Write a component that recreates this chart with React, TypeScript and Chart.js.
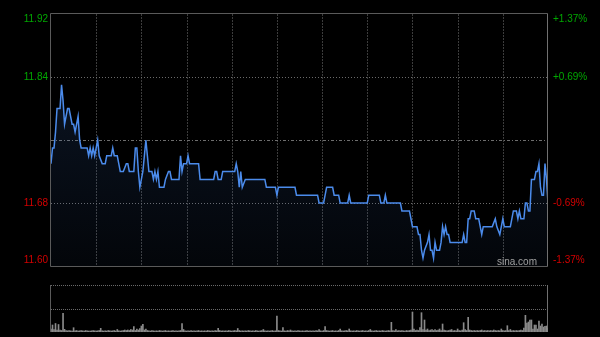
import React, { useEffect, useRef } from "react";
import { Chart, registerables } from "chart.js";
Chart.register(...registerables);

// Trading minutes (0..330, HK session) and last price at those minutes
const minutes = [
  0, 1, 2, 3, 4, 6, 7, 8, 9, 10, 11, 12, 14, 15, 16, 17, 18, 19, 20, 24,
  25, 26, 27, 28, 29, 30, 31, 32, 34, 36, 37, 40, 41, 42, 43, 44, 45, 46, 48, 50,
  51, 52, 55, 56, 57, 58, 59, 60, 61, 62, 63, 64, 65, 67, 68, 69, 70, 71, 72, 75,
  76, 78, 79, 80, 85, 86, 87, 88, 90, 91, 92, 98, 99, 108, 109, 110, 111, 113, 114, 122,
  123, 124, 125, 126, 127, 129, 142, 143, 149, 150, 151, 162, 163, 177, 178, 181, 182, 183, 187, 188,
  191, 192, 197, 198, 199, 210, 211, 218, 219, 221, 222, 223, 232, 233, 238, 239, 240, 243, 244, 245,
  246, 247, 248, 250, 251, 252, 253, 254, 255, 256, 258, 259, 260, 261, 262, 263, 264, 265, 273, 274,
  275, 276, 277, 278, 279, 281, 282, 284, 285, 286, 287, 293, 295, 296, 298, 299, 300, 301, 305, 307,
  309, 310, 311, 312, 314, 315, 316, 317, 318, 319, 321, 322, 323, 324, 325, 326, 327, 328, 329, 330,
];
const prices = [
  11.73, 11.75, 11.75, 11.77, 11.80, 11.80, 11.83, 11.81, 11.78, 11.79, 11.80, 11.80, 11.78, 11.78, 11.77, 11.78, 11.79, 11.76, 11.75, 11.75,
  11.74, 11.75, 11.74, 11.75, 11.74, 11.75, 11.76, 11.74, 11.73, 11.73, 11.74, 11.74, 11.75, 11.74, 11.74, 11.74, 11.73, 11.72, 11.72, 11.73,
  11.73, 11.72, 11.72, 11.75, 11.75, 11.72, 11.70, 11.71, 11.72, 11.74, 11.76, 11.74, 11.72, 11.72, 11.71, 11.72, 11.71, 11.72, 11.70, 11.70,
  11.71, 11.72, 11.72, 11.71, 11.71, 11.74, 11.72, 11.73, 11.73, 11.74, 11.73, 11.73, 11.71, 11.71, 11.72, 11.72, 11.71, 11.71, 11.72, 11.72,
  11.73, 11.72, 11.70, 11.72, 11.70, 11.71, 11.71, 11.70, 11.70, 11.69, 11.70, 11.70, 11.69, 11.69, 11.68, 11.68, 11.69, 11.70, 11.70, 11.69,
  11.69, 11.68, 11.68, 11.69, 11.68, 11.68, 11.69, 11.69, 11.68, 11.68, 11.69, 11.68, 11.68, 11.67, 11.67, 11.66, 11.65, 11.65, 11.64, 11.64,
  11.62, 11.61, 11.62, 11.63, 11.64, 11.62, 11.62, 11.61, 11.63, 11.62, 11.62, 11.63, 11.65, 11.64, 11.65, 11.64, 11.64, 11.63, 11.63, 11.64,
  11.63, 11.63, 11.66, 11.66, 11.67, 11.67, 11.66, 11.66, 11.65, 11.64, 11.65, 11.65, 11.66, 11.65, 11.64, 11.65, 11.66, 11.65, 11.65, 11.67,
  11.67, 11.66, 11.67, 11.66, 11.66, 11.68, 11.68, 11.67, 11.67, 11.71, 11.71, 11.72, 11.72, 11.73, 11.70, 11.69, 11.69, 11.73, 11.71, 11.68,
];

// Volume per minute (one bar per minute)
const volumes = [
  30, 70, 25, 85, 20, 75, 20, 15, 187, 27, 15, 12, 15, 12, 10, 43, 12, 15, 10, 12, 15, 12, 10, 15, 12, 10, 10, 12, 15, 12,
  10, 12, 15, 37, 12, 10, 12, 10, 15, 12, 10, 12, 15, 10, 25, 12, 10, 12, 15, 20, 15, 20, 15, 25, 20, 53, 15, 30, 20, 35,
  60, 77, 20, 30, 15, 12, 10, 15, 12, 10, 12, 10, 15, 12, 10, 12, 15, 10, 12, 10, 12, 15, 10, 12, 10, 12, 15, 85, 25, 12,
  10, 12, 10, 15, 10, 12, 10, 12, 15, 10, 12, 10, 12, 10, 15, 12, 10, 12, 10, 15, 12, 37, 15, 10, 12, 10, 12, 10, 15, 12,
  10, 12, 15, 12, 35, 15, 10, 12, 10, 12, 10, 15, 12, 10, 12, 10, 15, 12, 10, 12, 15, 25, 12, 10, 12, 10, 12, 15, 10, 12,
  160, 15, 12, 10, 43, 12, 10, 15, 12, 20, 12, 10, 12, 10, 15, 12, 10, 12, 10, 12, 15, 10, 12, 10, 12, 10, 15, 12, 25, 12,
  10, 15, 53, 15, 12, 10, 12, 15, 10, 12, 10, 15, 30, 12, 10, 12, 15, 12, 30, 12, 10, 12, 10, 15, 12, 10, 12, 15, 10, 12,
  10, 15, 25, 12, 10, 12, 15, 10, 12, 10, 15, 12, 10, 12, 15, 12, 97, 15, 12, 25, 12, 15, 12, 15, 12, 10, 15, 12, 15, 20,
  200, 30, 15, 20, 15, 43, 193, 25, 120, 20, 30, 15, 20, 25, 15, 25, 15, 20, 30, 15, 80, 20, 15, 12, 15, 20, 25, 12, 15, 12,
  30, 15, 12, 20, 93, 25, 15, 147, 20, 15, 12, 15, 12, 15, 12, 15, 20, 12, 15, 12, 15, 12, 15, 12, 20, 15, 12, 15, 12, 30,
  15, 12, 15, 63, 15, 25, 12, 15, 12, 15, 12, 15, 20, 15, 40, 167, 90, 100, 120, 120, 30, 70, 70, 30, 110, 60, 80, 50, 57, 60, 40,
];

const prevClose = 11.76;
const priceMin = 11.6;
const priceMax = 11.92;
const priceTicks = [11.92, 11.84, 11.68, 11.6];
const pctLabels = ["+1.37%", "+0.69%", "-0.69%", "-1.37%"];
const gridMinutes = [30, 60, 90, 120, 150, 180, 210, 240, 270, 300];
const lastMinute = 330;
const volumeMax = 470;

const FONT = "10px 'Liberation Sans', Arial, sans-serif";
const GREEN = "#00a800";
const RED = "#d40000";

function seg(ctx: CanvasRenderingContext2D, x1: number, y1: number, x2: number, y2: number) {
  ctx.beginPath();
  ctx.moveTo(x1, y1);
  ctx.lineTo(x2, y2);
  ctx.stroke();
}

const priceFrame = {
  id: "priceFrame",
  beforeDatasetsDraw(chart: any) {
    const { ctx, chartArea: a, scales } = chart;
    const x = scales.x;
    const y = scales.y;
    ctx.save();
    ctx.lineWidth = 1;
    ctx.strokeStyle = "#3c3c3c";
    ctx.setLineDash([2, 1]);
    gridMinutes.forEach((m) => {
      const px = Math.round(x.getPixelForValue(m)) + 0.5;
      seg(ctx, px, a.top, px, a.bottom);
    });
    ctx.strokeStyle = "#6a6a6a";
    ctx.setLineDash([1, 2]);
    priceTicks.forEach((v) => {
      if (v === priceMax || v === priceMin) return;
      const py = Math.round(y.getPixelForValue(v)) + 0.5;
      seg(ctx, a.left, py, a.right, py);
    });
    ctx.strokeStyle = "#6e6e6e";
    ctx.setLineDash([3, 2, 1, 2]);
    const mid = Math.round(y.getPixelForValue(prevClose)) + 0.5;
    seg(ctx, a.left, mid, a.right, mid);
    ctx.restore();
  },
  afterDatasetsDraw(chart: any) {
    const { ctx, chartArea: a, scales } = chart;
    const y = scales.y;
    ctx.save();
    ctx.lineWidth = 1;
    ctx.setLineDash([]);
    ctx.strokeStyle = "#5a5a5a";
    seg(ctx, a.left - 0.5, a.top - 0.5, a.right - 0.5, a.top - 0.5);
    seg(ctx, a.left - 0.5, a.bottom + 0.5, a.right - 0.5, a.bottom + 0.5);
    seg(ctx, a.left - 0.5, a.top - 0.5, a.left - 0.5, a.bottom + 0.5);
    ctx.strokeStyle = "#707070";
    seg(ctx, a.right - 0.5, a.top - 0.5, a.right - 0.5, a.bottom + 0.5);

    ctx.font = FONT;
    ctx.textBaseline = "middle";
    priceTicks.forEach((v, k) => {
      let py = y.getPixelForValue(v);
      py = Math.min(Math.max(py, a.top + 5), a.bottom - 6);
      ctx.fillStyle = v > prevClose ? GREEN : RED;
      ctx.textAlign = "right";
      ctx.fillText(v.toFixed(2), a.left - 3, py);
      ctx.textAlign = "left";
      ctx.fillText(pctLabels[k], a.right + 5, py);
    });

    ctx.fillStyle = "#a0a0a0";
    ctx.textAlign = "right";
    ctx.fillText("sina.com", a.right - 11, a.bottom - 4);
    ctx.restore();
  },
};

const volFrame = {
  id: "volFrame",
  beforeDatasetsDraw(chart: any) {
    const { ctx, chartArea: a } = chart;
    ctx.save();
    ctx.lineWidth = 1;
    ctx.strokeStyle = "#6a6a6a";
    ctx.setLineDash([1, 1]);
    seg(ctx, a.left, a.top + 0.5, a.right, a.top + 0.5);
    const mid = Math.round((a.top + a.bottom) / 2) + 0.5;
    seg(ctx, a.left, mid, a.right, mid);
    ctx.setLineDash([]);
    ctx.strokeStyle = "#5a5a5a";
    seg(ctx, a.left - 0.5, a.top, a.left - 0.5, a.bottom);
    ctx.strokeStyle = "#707070";
    seg(ctx, a.right - 0.5, a.top, a.right - 0.5, a.bottom);
    ctx.restore();
  },
};

export default function App() {
  const priceRef = useRef<HTMLCanvasElement>(null);
  const volRef = useRef<HTMLCanvasElement>(null);

  useEffect(() => {
    const pts = minutes.map((m, k) => ({ x: m, y: prices[k] }));
    const priceChart = new Chart(priceRef.current as HTMLCanvasElement, {
      type: "line",
      data: {
        datasets: [
          {
            data: pts,
            borderColor: "#4b8beb",
            borderWidth: 1.5,
            pointRadius: 0,
            tension: 0,
            fill: "start",
            backgroundColor: (c: any) => {
              const area = c.chart.chartArea;
              if (!area) return "rgba(40,80,150,0.12)";
              const g = c.chart.ctx.createLinearGradient(0, area.top, 0, area.bottom);
              g.addColorStop(0, "rgba(60,110,190,0.22)");
              g.addColorStop(1, "rgba(60,110,190,0.05)");
              return g;
            },
          },
        ],
      },
      options: {
        responsive: false,
        animation: false,
        devicePixelRatio: 1,
        events: [],
        layout: { padding: { left: 51, right: 52, top: 14, bottom: 6 } },
        plugins: { legend: { display: false }, tooltip: { enabled: false } },
        scales: {
          x: { type: "linear", min: 0, max: lastMinute, display: false },
          y: { min: priceMin, max: priceMax, display: false },
        },
      },
      plugins: [priceFrame],
    } as any);

    const volChart = new Chart(volRef.current as HTMLCanvasElement, {
      type: "bar",
      data: {
        labels: volumes.map((_, i) => i),
        datasets: [
          {
            data: volumes,
            backgroundColor: "#8a8a8a",
            borderWidth: 0,
            barThickness: 1,
          },
        ],
      },
      options: {
        responsive: false,
        animation: false,
        devicePixelRatio: 1,
        events: [],
        layout: { padding: { left: 51, right: 52, top: 13, bottom: 5 } },
        plugins: { legend: { display: false }, tooltip: { enabled: false } },
        scales: {
          x: { display: false, offset: false },
          y: { display: false, min: 0, max: volumeMax },
        },
      },
      plugins: [volFrame],
    } as any);

    return () => {
      priceChart.destroy();
      volChart.destroy();
    };
  }, []);

  return (
    <div style={{ position: "fixed", left: 0, top: 0, width: 600, height: 337, background: "#000", overflow: "hidden" }}>
      <canvas ref={priceRef} width={600} height={272} style={{ position: "absolute", left: 0, top: 0, width: 600, height: 272 }} />
      <canvas ref={volRef} width={600} height={65} style={{ position: "absolute", left: 0, top: 272, width: 600, height: 65 }} />
    </div>
  );
}
